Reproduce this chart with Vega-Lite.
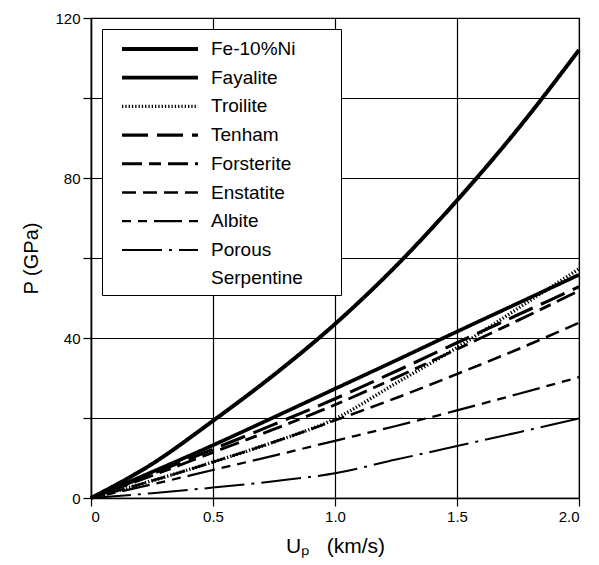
{
  "$schema": "https://vega.github.io/schema/vega-lite/v6.json",
  "width": 488,
  "height": 480,
  "autosize": "none",
  "padding": {"left": 91, "top": 18, "right": 20, "bottom": 67},
  "background": "white",
  "config": {
    "font": "Liberation Sans",
    "view": {"stroke": "black", "strokeWidth": 1.2},
    "style": {"guide-label": {"lineHeight": 28.5}},
    "axis": {
      "domainColor": "black", "domainWidth": 1.5,
      "tickColor": "black", "tickSize": 8, "tickWidth": 1.2,
      "gridColor": "black", "gridOpacity": 1, "gridWidth": 1.2,
      "labelColor": "black", "labelFontSize": 15, "labelFont": "Liberation Sans", "labelPadding": 3,
      "titleColor": "black", "titleFontSize": 20, "titleFontWeight": "normal", "titleFont": "Liberation Sans", "titlePadding": 11
    },
    "legend": {
      "orient": "top-left",
      "offset": 11,
      "title": null,
      "strokeColor": "black",
      "fillColor": "white",
      "padding": 6,
      "symbolType": "stroke",
      "symbolSize": 5776,
      "symbolStrokeColor": "black",
      "symbolOffset": 12,
      "labelFontSize": 19,
      "labelFont": "Liberation Sans",
      "labelColor": "black",
      "labelOffset": 11,
      "clipHeight": 28,
      "rowPadding": 0.7
    }
  },
  "data": {
    "values": [
      {"material": "Fe-10%Ni", "up": 0, "p": 0},
      {"material": "Fe-10%Ni", "up": 0.25, "p": 8.5},
      {"material": "Fe-10%Ni", "up": 0.5, "p": 19.3},
      {"material": "Fe-10%Ni", "up": 0.75, "p": 30.8},
      {"material": "Fe-10%Ni", "up": 1.0, "p": 43.5},
      {"material": "Fe-10%Ni", "up": 1.25, "p": 58},
      {"material": "Fe-10%Ni", "up": 1.5, "p": 74.4},
      {"material": "Fe-10%Ni", "up": 1.75, "p": 92.3},
      {"material": "Fe-10%Ni", "up": 2.0, "p": 112},
      {"material": "Fayalite", "up": 0, "p": 0},
      {"material": "Fayalite", "up": 0.25, "p": 6.5},
      {"material": "Fayalite", "up": 0.5, "p": 13.2},
      {"material": "Fayalite", "up": 0.75, "p": 20.2},
      {"material": "Fayalite", "up": 1.0, "p": 27.3},
      {"material": "Fayalite", "up": 1.25, "p": 34.4},
      {"material": "Fayalite", "up": 1.5, "p": 41.6},
      {"material": "Fayalite", "up": 1.75, "p": 48.7},
      {"material": "Fayalite", "up": 2.0, "p": 55.8},
      {"material": "Troilite", "up": 0, "p": 0},
      {"material": "Troilite", "up": 0.25, "p": 4.3},
      {"material": "Troilite", "up": 0.5, "p": 9},
      {"material": "Troilite", "up": 0.75, "p": 14},
      {"material": "Troilite", "up": 1.0, "p": 19.8},
      {"material": "Troilite", "up": 1.25, "p": 28.7},
      {"material": "Troilite", "up": 1.5, "p": 37.6},
      {"material": "Troilite", "up": 1.75, "p": 47.4},
      {"material": "Troilite", "up": 2.0, "p": 57.3},
      {"material": "Tenham", "up": 0, "p": 0},
      {"material": "Tenham", "up": 0.25, "p": 6},
      {"material": "Tenham", "up": 0.5, "p": 12.2},
      {"material": "Tenham", "up": 0.75, "p": 18.4},
      {"material": "Tenham", "up": 1.0, "p": 24.8},
      {"material": "Tenham", "up": 1.25, "p": 31.7},
      {"material": "Tenham", "up": 1.5, "p": 38.8},
      {"material": "Tenham", "up": 1.75, "p": 45.8},
      {"material": "Tenham", "up": 2.0, "p": 52.8},
      {"material": "Forsterite", "up": 0, "p": 0},
      {"material": "Forsterite", "up": 0.25, "p": 5.6},
      {"material": "Forsterite", "up": 0.5, "p": 11.4},
      {"material": "Forsterite", "up": 0.75, "p": 17.2},
      {"material": "Forsterite", "up": 1.0, "p": 23.3},
      {"material": "Forsterite", "up": 1.25, "p": 30.1},
      {"material": "Forsterite", "up": 1.5, "p": 37.2},
      {"material": "Forsterite", "up": 1.75, "p": 44.4},
      {"material": "Forsterite", "up": 2.0, "p": 51.8},
      {"material": "Enstatite", "up": 0, "p": 0},
      {"material": "Enstatite", "up": 0.25, "p": 4.3},
      {"material": "Enstatite", "up": 0.5, "p": 9},
      {"material": "Enstatite", "up": 0.75, "p": 14},
      {"material": "Enstatite", "up": 1.0, "p": 19.4},
      {"material": "Enstatite", "up": 1.25, "p": 25},
      {"material": "Enstatite", "up": 1.5, "p": 31},
      {"material": "Enstatite", "up": 1.75, "p": 37.2},
      {"material": "Enstatite", "up": 2.0, "p": 43.8},
      {"material": "Albite", "up": 0, "p": 0},
      {"material": "Albite", "up": 0.25, "p": 3.4},
      {"material": "Albite", "up": 0.5, "p": 7},
      {"material": "Albite", "up": 0.75, "p": 10.6},
      {"material": "Albite", "up": 1.0, "p": 14.3},
      {"material": "Albite", "up": 1.25, "p": 18},
      {"material": "Albite", "up": 1.5, "p": 21.9},
      {"material": "Albite", "up": 1.75, "p": 26},
      {"material": "Albite", "up": 2.0, "p": 30.2},
      {"material": "Porous Serpentine", "up": 0, "p": 0},
      {"material": "Porous Serpentine", "up": 0.25, "p": 1.2},
      {"material": "Porous Serpentine", "up": 0.5, "p": 2.6},
      {"material": "Porous Serpentine", "up": 0.75, "p": 4.2},
      {"material": "Porous Serpentine", "up": 1.0, "p": 6.2},
      {"material": "Porous Serpentine", "up": 1.25, "p": 9.6},
      {"material": "Porous Serpentine", "up": 1.5, "p": 13},
      {"material": "Porous Serpentine", "up": 1.75, "p": 16.4},
      {"material": "Porous Serpentine", "up": 2.0, "p": 19.9}
    ]
  },
  "mark": {"type": "line", "interpolate": "monotone", "color": "black"},
  "encoding": {
    "x": {
      "field": "up", "type": "quantitative",
      "scale": {"domain": [0, 2], "nice": false, "zero": true},
      "axis": {"values": [0, 0.5, 1, 1.5, 2], "labelExpr": "datum.value == 0 ? '0' : format(datum.value, '.1f')", "title": "Uₚ\u00a0\u00a0 (km/s)", "titleFontSize": 21}
    },
    "y": {
      "field": "p", "type": "quantitative",
      "scale": {"domain": [0, 120], "nice": false},
      "axis": {"values": [0, 20, 40, 60, 80, 100, 120], "labelExpr": "datum.value % 40 == 0 ? datum.label : ''", "title": "P (GPa)", "titlePadding": 13}
    },
    "strokeDash": {
      "field": "material", "type": "nominal",
      "scale": {
        "domain": ["Fe-10%Ni", "Fayalite", "Troilite", "Tenham", "Forsterite", "Enstatite", "Albite", "Porous Serpentine"],
        "range": [[1, 0], [1, 0], [1.3, 2], [26, 9], [20, 7, 12, 7], [14, 7], [9, 7, 9, 7, 28, 7], [40, 7, 3, 7]]
      },
      "legend": {"labelExpr": "datum.label == 'Porous Serpentine' ? ['Porous', 'Serpentine\u00a0\u00a0\u00a0\u00a0\u00a0\u00a0\u200b'] : datum.label"}
    },
    "strokeWidth": {
      "field": "material", "type": "nominal",
      "scale": {
        "domain": ["Fe-10%Ni", "Fayalite", "Troilite", "Tenham", "Forsterite", "Enstatite", "Albite", "Porous Serpentine"],
        "range": [4, 2, 1.2, 2.6, 2.6, 2.6, 2.6, 2.4]
      },
      "legend": {"labelExpr": "datum.label == 'Porous Serpentine' ? ['Porous', 'Serpentine\u00a0\u00a0\u00a0\u00a0\u00a0\u00a0\u200b'] : datum.label"}
    }
  }
}
